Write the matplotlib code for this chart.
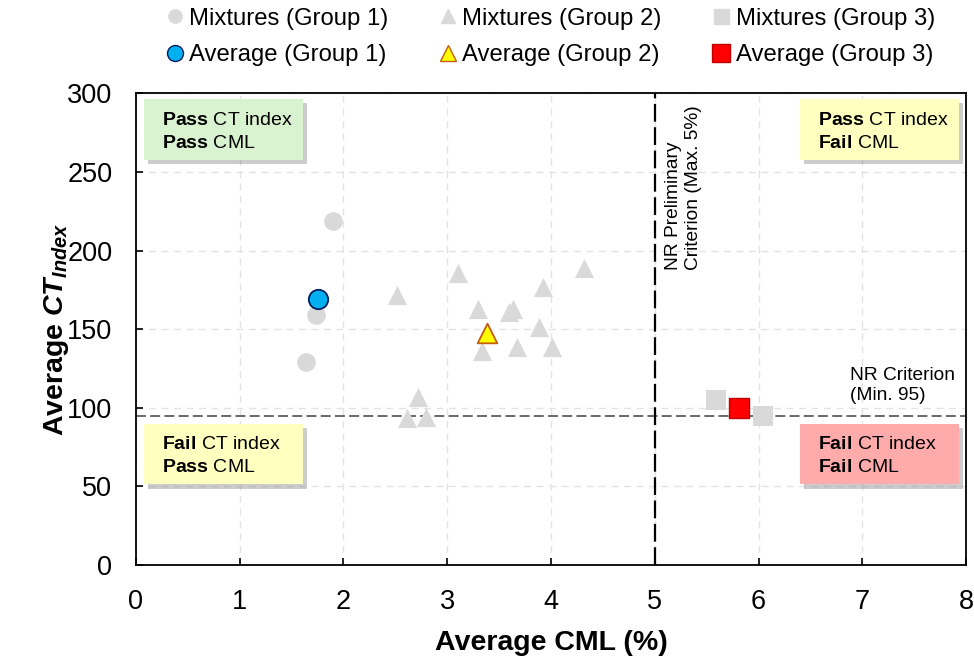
import numpy as np
import matplotlib
matplotlib.use("Agg")
import matplotlib.pyplot as plt
from matplotlib.lines import Line2D
from matplotlib.patches import Rectangle
import matplotlib.patheffects as pe

plt.rcParams['font.family'] = ['Liberation Sans', 'DejaVu Sans']
plt.rcParams['mathtext.fontset'] = 'custom'
plt.rcParams['mathtext.rm'] = 'Liberation Sans'
plt.rcParams['mathtext.it'] = 'Liberation Sans:italic'
plt.rcParams['mathtext.bf'] = 'Liberation Sans:bold'
plt.rcParams['mathtext.bfit'] = 'Liberation Sans:bold:italic'

# data
g1_cml = [1.90, 1.735, 1.64]
g1_ct = [219, 159, 129]
g2_cml = [3.10, 2.52, 3.30, 3.595, 3.637, 3.926, 4.32, 3.887, 3.338, 3.67, 4.01, 2.72, 2.61, 2.795]
g2_ct = [185.6, 171.8, 162.7, 160.8, 162.7, 176.7, 188.8, 151.6, 136.3, 138.9, 138.9, 106.7, 93.7, 94.4]
g3_cml = [5.59, 6.04]
g3_ct = [105, 95]
avg_cml = [1.757, 3.386, 5.815]
avg_ct = [169, 147.8, 100.1]

ct_limit = 95
cml_limit = 5

fig = plt.figure(figsize=(9.74, 6.57), dpi=100)
ax = fig.add_axes([0.1396, 0.1400, 0.8522, 0.7177])

grey = '#D9D9D9'
ax.scatter(g1_cml, g1_ct, s=180, marker='o', color=grey, linewidth=0, zorder=3)
ax.scatter(g2_cml, g2_ct, s=190, marker='^', color=grey, linewidth=0, zorder=3)
ax.scatter(g3_cml, g3_ct, s=205, marker='s', color=grey, linewidth=0, zorder=3)
ax.scatter(avg_cml[0], avg_ct[0], s=195, marker='o', color='#00B0F0', edgecolor='#002060', linewidth=1.3, zorder=4)
ax.scatter(avg_cml[1], avg_ct[1], s=200, marker='^', color='#FFFF00', edgecolor='#C55A11', linewidth=1.3, zorder=4)
ax.scatter(avg_cml[2], avg_ct[2], s=210, marker='s', color='#FF0000', edgecolor='#C00000', linewidth=1.0, zorder=4)

ax.axhline(ct_limit, color='#404040', linestyle=(0, (6.5, 2.8)), linewidth=1.1, zorder=2)
ax.axvline(cml_limit, color='black', linestyle=(0, (8, 2.5)), linewidth=1.6, zorder=2)

ax.set_xlim(0, 8)
ax.set_ylim(0, 300)
ax.set_xticks(np.arange(0, 9, 1))
ax.set_yticks(np.arange(0, 301, 50))
ax.grid(True, color='#E3E3E3', linestyle=(0, (5, 4)), linewidth=1.0, zorder=0)
ax.set_axisbelow(True)
ax.tick_params(direction='in', length=5, width=1.2, labelsize=19.5, pad=17)
for s in ax.spines.values():
    s.set_linewidth(1.3)

ax.set_xlabel('Average CML (%)', fontsize=20.5, fontweight='bold', labelpad=11)
ax.set_ylabel(r'Average $\mathbfit{CT}_{\mathbfit{Index}}$', fontsize=20.5, fontweight='bold', labelpad=-3)

# quadrant boxes
boxes = [
    (0.077, 257.7, '#D9F2D0', r'$\mathbf{Pass}$ CT index', r'$\mathbf{Pass}$ CML'),
    (6.40, 257.7, '#FFFFBF', r'$\mathbf{Pass}$ CT index', r'$\mathbf{Fail}$ CML'),
    (0.077, 51.3, '#FFFFBF', r'$\mathbf{Fail}$ CT index', r'$\mathbf{Pass}$ CML'),
    (6.40, 51.3, '#FFABAB', r'$\mathbf{Fail}$ CT index', r'$\mathbf{Fail}$ CML'),
]
shadow = [pe.SimplePatchShadow(offset=(3, -3), shadow_rgbFace='#808080', alpha=0.4), pe.Normal()]
for bx, by, col, l1, l2 in boxes:
    r = Rectangle((bx, by), 1.53, 38.7, facecolor=col, edgecolor='none', zorder=5)
    r.set_path_effects(shadow)
    ax.add_patch(r)
    ax.text(bx + 0.17, by + 38.7 - 13.6, l1, fontsize=14, va='center', ha='left', zorder=6)
    ax.text(bx + 0.17, by + 38.7 - 28.0, l2, fontsize=14, va='center', ha='left', zorder=6)

ax.text(5.10, 187.7, 'NR Preliminary\nCriterion (Max. 5%)', rotation=90, fontsize=13.8,
        ha='left', va='bottom', multialignment='left', zorder=6)
ax.text(6.882, 102.5, 'NR Criterion\n(Min. 95)', fontsize=13.8, ha='left', va='bottom',
        multialignment='left', zorder=6)

handles = [
    Line2D([], [], marker='o', color=grey, linestyle='none', markersize=9.6),
    Line2D([], [], marker='o', markerfacecolor='#00B0F0', markeredgecolor='#002060', linestyle='none', markersize=11.5),
    Line2D([], [], marker='^', color=grey, linestyle='none', markersize=9.6),
    Line2D([], [], marker='^', markerfacecolor='#FFFF00', markeredgecolor='#C55A11', linestyle='none', markersize=12),
    Line2D([], [], marker='s', color=grey, linestyle='none', markersize=10.8),
    Line2D([], [], marker='s', markerfacecolor='#FF0000', markeredgecolor='#C00000', linestyle='none', markersize=13),
]
labels = ['Mixtures (Group 1)', 'Average (Group 1)', 'Mixtures (Group 2)', 'Average (Group 2)',
          'Mixtures (Group 3)', 'Average (Group 3)']
fig.legend(handles, labels, ncol=3, loc='center', bbox_to_anchor=(550 / 974, 1 - 37 / 657), frameon=False,
           fontsize=17.2, handletextpad=0.2, columnspacing=2.1, labelspacing=0.6, handlelength=0.8,
           borderpad=0, borderaxespad=0)

fig.savefig('out.png', dpi=100)
